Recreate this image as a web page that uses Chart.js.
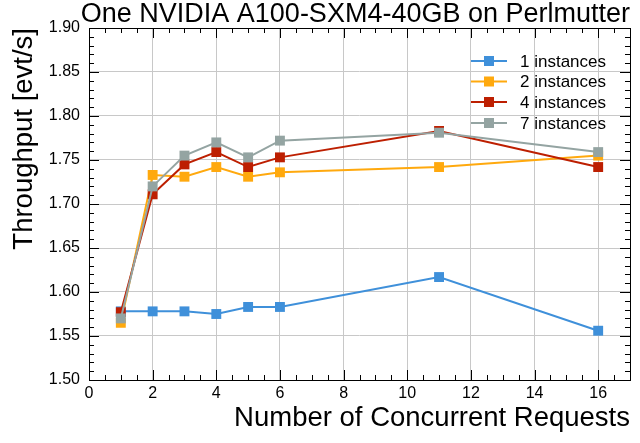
<!DOCTYPE html>
<html>
<head>
<title>One NVIDIA A100-SXM4-40GB on Perlmutter</title>
<script src="https://cdn.jsdelivr.net/npm/chart.js"></script>
<style>
body { margin: 0; background: #fff; }
.chart-container { position: relative; width: 640px; height: 443px; }
</style>
</head>
<body>
<div class="chart-container">
<canvas id="throughputChart"></canvas>
</div>
<script>
// concurrent requests (x) and throughput per number of instances
const requests = [1, 2, 3, 4, 5, 6, 11, 16];
const inst1 = [1.578, 1.578, 1.578, 1.575, 1.583, 1.583, 1.617, 1.556];
const inst2 = [1.565, 1.733, 1.731, 1.742, 1.731, 1.736, 1.742, 1.755];
const inst4 = [1.577, 1.711, 1.745, 1.759, 1.742, 1.753, 1.783, 1.742];
const inst7 = [1.570, 1.720, 1.755, 1.770, 1.753, 1.772, 1.781, 1.759];
const seriesLabels = ['1 instances', '2 instances', '4 instances', '7 instances'];
const seriesColors = ['#3f90da', '#ffa90e', '#bd1f01', '#94a4a2'];

const xTicks = [0, 2, 4, 6, 8, 10, 12, 14, 16];
const yTicks = [1.50, 1.55, 1.60, 1.65, 1.70, 1.75, 1.80, 1.85, 1.90];
const xMinorStep = 0.5;
const yMinorStep = 0.01;

const FONT = '"Liberation Sans", Arial, Helvetica, sans-serif';

function xy(vals) {
  return requests.map((x, i) => ({ x: x, y: vals[i] }));
}

// ROOT-like frame with inward ticks on all four sides
const framePlugin = {
  id: 'frame',
  afterDraw(chart) {
    const ctx = chart.ctx;
    const a = chart.chartArea;
    const xs = chart.scales.x, ys = chart.scales.y;
    ctx.save();
    ctx.strokeStyle = '#000';
    ctx.lineWidth = 1;
    ctx.beginPath();
    // x ticks
    for (let v = xs.min; v <= xs.max + 1e-9; v += xMinorStep) {
      const px = Math.round(xs.getPixelForValue(v)) + 0.5;
      const major = xTicks.some(t => Math.abs(t - v) < 1e-9);
      const len = major ? 10 : 5;
      ctx.moveTo(px, a.bottom); ctx.lineTo(px, a.bottom - len);
      ctx.moveTo(px, a.top); ctx.lineTo(px, a.top + len);
    }
    // y ticks
    for (let v = ys.min; v <= ys.max + 1e-9; v += yMinorStep) {
      const py = Math.round(ys.getPixelForValue(v)) + 0.5;
      const major = yTicks.some(t => Math.abs(t - v) < 1e-9);
      const len = major ? 10 : 5;
      ctx.moveTo(a.left, py); ctx.lineTo(a.left + len, py);
      ctx.moveTo(a.right, py); ctx.lineTo(a.right - len, py);
    }
    ctx.stroke();
    ctx.strokeRect(Math.round(a.left) + 0.5, Math.round(a.top) + 0.5,
      Math.round(a.right - a.left), Math.round(a.bottom - a.top));

    // legend, top right inside frame
    const rows = [61, 81.5, 102, 123];
    ctx.font = '17px ' + FONT;
    ctx.textBaseline = 'middle';
    ctx.textAlign = 'left';
    seriesLabels.forEach((lab, i) => {
      const y = rows[i];
      ctx.strokeStyle = seriesColors[i];
      ctx.lineWidth = 2;
      ctx.beginPath();
      ctx.moveTo(471, y); ctx.lineTo(507, y);
      ctx.stroke();
      ctx.fillStyle = seriesColors[i];
      ctx.fillRect(484, y - 5, 10, 10);
      ctx.fillStyle = '#000';
      ctx.fillText(lab, 520, y + 1);
    });
    ctx.restore();
  }
};

const allSeries = [inst1, inst2, inst4, inst7];
const datasets = allSeries.map((vals, i) => ({
  label: seriesLabels[i],
  data: xy(vals),
  borderColor: seriesColors[i],
  backgroundColor: seriesColors[i],
  borderWidth: 2,
  pointStyle: 'rect',
  pointRadius: 7,
  pointBorderWidth: 0,
  tension: 0,
  order: 3 - i
}));

const ctx = document.getElementById('throughputChart').getContext('2d');
const chart = new Chart(ctx, {
  type: 'line',
  data: { datasets: datasets },
  options: {
    responsive: true,
    maintainAspectRatio: false,
    animation: false,
    layout: { padding: { left: 0, right: 10, top: 0, bottom: 0 } },
    scales: {
      x: {
        type: 'linear',
        min: 0,
        max: 17,
        afterBuildTicks: s => { s.ticks = xTicks.map(v => ({ value: v })); },
        afterFit: s => { s.height = 63; },
        grid: { color: '#c8c8c8', lineWidth: 1, drawTicks: false },
        border: { display: false },
        ticks: {
          color: '#000',
          font: { family: FONT, size: 16 },
          padding: 4,
          maxRotation: 0,
          callback: v => String(v)
        },
        title: {
          display: true,
          text: 'Number of Concurrent Requests',
          align: 'end',
          color: '#000',
          font: { family: FONT, size: 27.5, lineHeight: 1 },
          padding: { top: 12, bottom: 11 }
        }
      },
      y: {
        type: 'linear',
        min: 1.5,
        max: 1.9,
        afterBuildTicks: s => { s.ticks = yTicks.map(v => ({ value: v })); },
        afterFit: s => { s.width = 89; },
        grid: { color: '#c8c8c8', lineWidth: 1, drawTicks: false },
        border: { display: false },
        ticks: {
          color: '#000',
          font: { family: FONT, size: 16 },
          padding: 9,
          callback: v => v.toFixed(2)
        },
        title: {
          display: true,
          text: 'Throughput [evt/s]',
          align: 'end',
          color: '#000',
          font: { family: FONT, size: 27.5, lineHeight: 1 },
          padding: { top: 11, bottom: 11 }
        }
      }
    },
    plugins: {
      legend: { display: false },
      tooltip: { enabled: false },
      title: {
        display: true,
        text: 'One NVIDIA A100-SXM4-40GB on Perlmutter',
        align: 'end',
        color: '#000',
        font: { family: FONT, size: 27, weight: 'normal', lineHeight: 1 },
        padding: { top: 1, bottom: 0 }
      }
    }
  },
  plugins: [framePlugin]
});
</script>
</body>
</html>
